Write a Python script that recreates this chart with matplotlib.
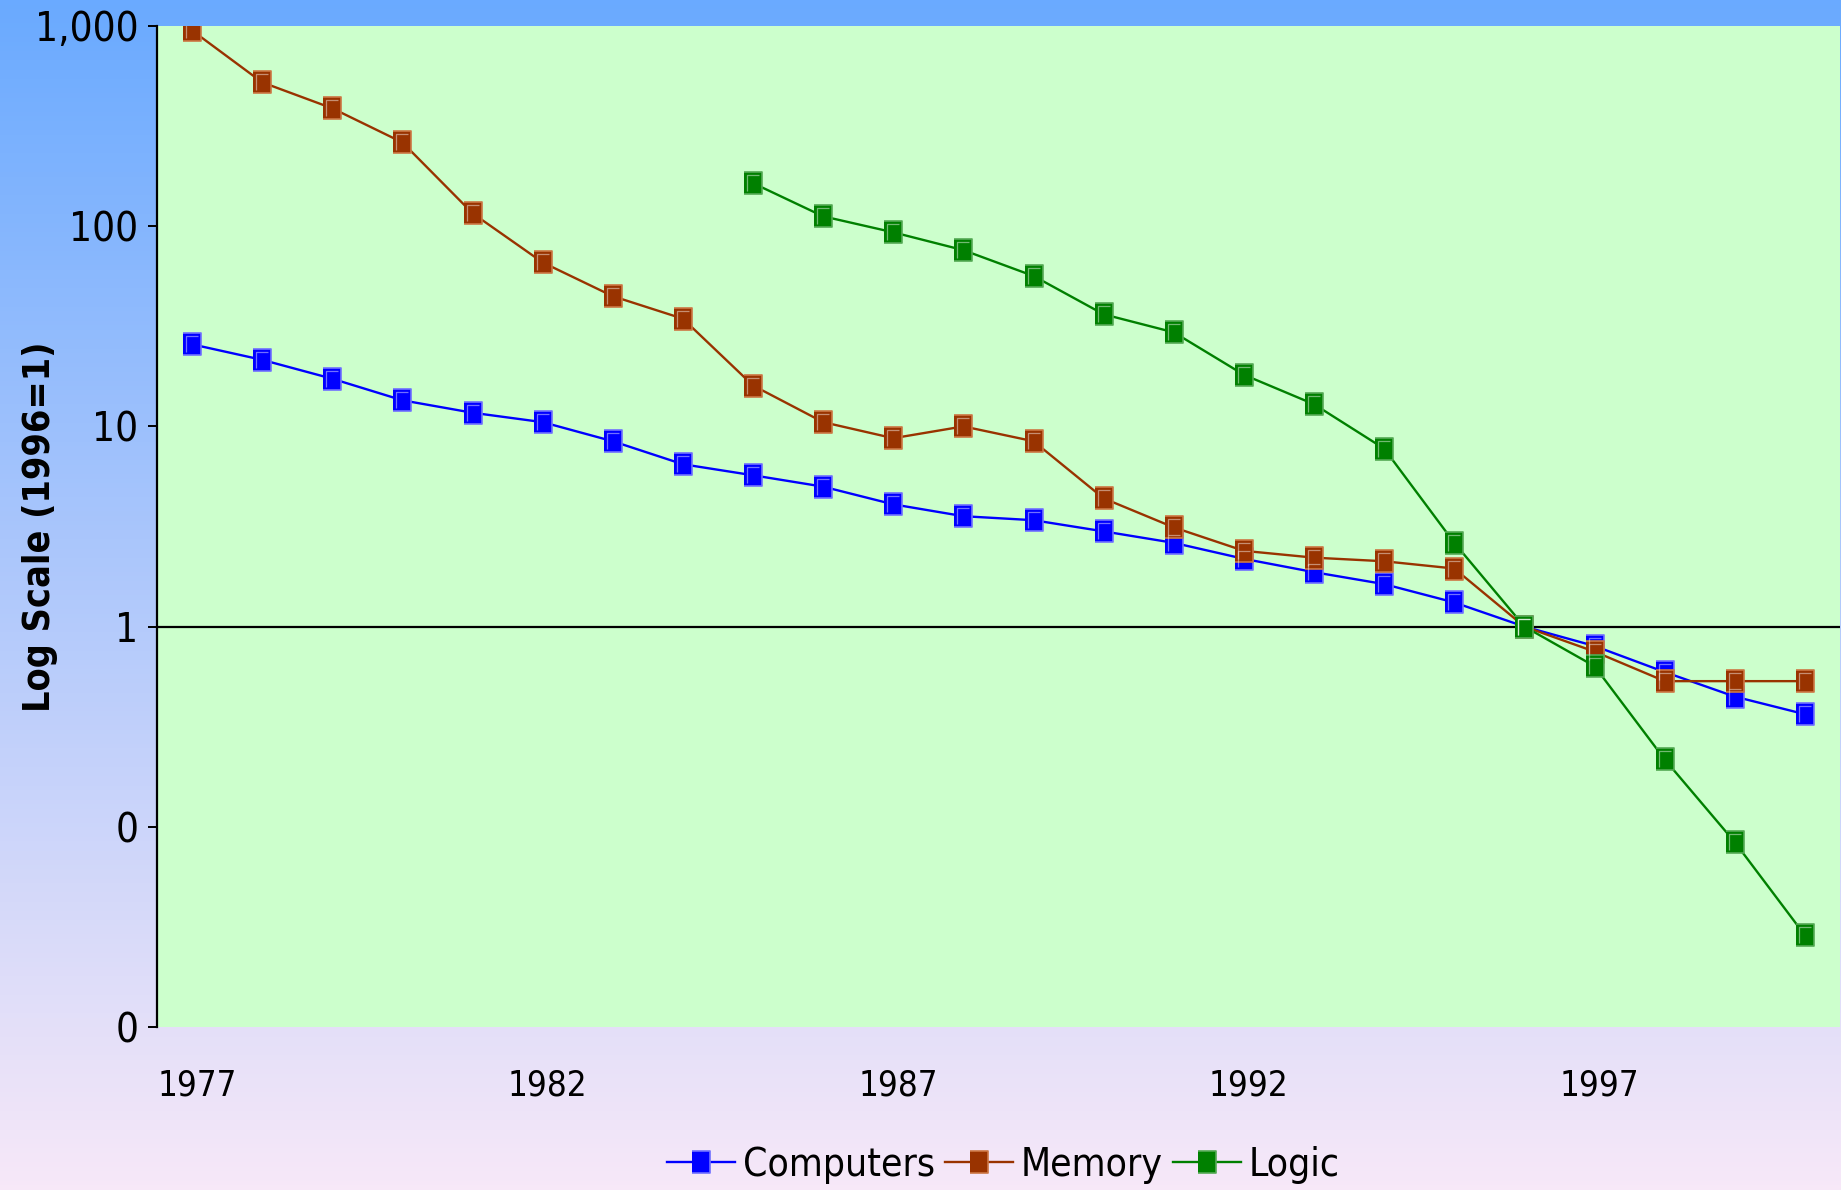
import numpy as np
import matplotlib
matplotlib.use('Agg')
import matplotlib.pyplot as plt
from matplotlib import font_manager
from matplotlib.path import Path
from matplotlib.ticker import FuncFormatter, NullLocator, FixedLocator
from matplotlib.lines import Line2D
from matplotlib.transforms import ScaledTranslation

# Relative price index, log scale, 1996 = 1
years = list(range(1977, 2001))
computers = [25.7, 21.5, 17.3, 13.5, 11.7, 10.5, 8.43, 6.47, 5.70, 5.00, 4.08, 3.56,
             3.40, 2.99, 2.62, 2.18, 1.87, 1.63, 1.32, 1.0, 0.80, 0.593, 0.447, 0.365]
memory = [950, 523, 388, 262, 116, 65.9, 44.7, 34.5, 16.0, 10.5, 8.73, 10.0,
          8.43, 4.37, 3.13, 2.39, 2.21, 2.12, 1.95, 1.0, 0.75, 0.534, 0.534, 0.534]
logic = [None] * 8 + [164, 112, 93.2, 75.9, 56.4, 36.3, 29.5, 18.1, 12.9, 7.74,
                      2.62, 1.0, 0.634, 0.217, 0.0838, 0.0287]

series_names = ['Computers', 'Memory', 'Logic']
series_colors = ['#0000FF', '#993300', '#008000']
edge_colors = ['#7070FF', '#CC7744', '#55AA55']
year_labels = ['1977', '1982', '1987', '1992', '1997']
y_ticks = [0.01, 0.1, 1, 10, 100, 1000]

# look for a narrow sans face; fall back to Liberation Sans at smaller sizes
narrow = None
for f in font_manager.fontManager.ttflist:
    nm = f.name.lower()
    if ('narrow' in nm or 'condensed' in nm or f.stretch in ('condensed', 'semi-condensed')) \
            and 'mono' not in nm and 'serif' not in nm.replace('sans serif', ''):
        narrow = (f.name, f.stretch)
        break

if narrow:
    plt.rcParams['font.family'] = [narrow[0], 'Liberation Sans', 'DejaVu Sans']
    plt.rcParams['font.stretch'] = narrow[1]
    sz_tick, sz_year, sz_legend, sz_ylab = 29, 25, 28, 27
else:
    plt.rcParams['font.family'] = ['Liberation Sans', 'DejaVu Sans']
    sz_tick, sz_year, sz_legend, sz_ylab = 26, 24, 26, 27

W, H = 1841, 1190
fig = plt.figure(figsize=(W / 100, H / 100), dpi=100)

# vertical gradient behind everything
top = np.array([106, 170, 255]) / 255
bottom = np.array([247, 232, 248]) / 255
t = np.linspace(0, 1, 256)[:, None]
grad = (top * (1 - t) + bottom * t)[:, None, :]
bg = fig.add_axes([0, 0, 1, 1], zorder=-10)
bg.imshow(grad, aspect='auto', extent=[0, 1, 0, 1])
bg.axis('off')

ax = fig.add_axes([157 / W, 163 / H, 1683 / W, 1001 / H])
ax.set_facecolor('#CCFFCC')

# tall rectangular marker plus an inner highlight stroke
box = [(-0.4, -0.5), (0.4, -0.5), (0.4, 0.5), (-0.4, 0.5)]
shine = Path([(0.5, 0.5), (-0.25, -0.38), (-0.25, 0.38), (0.28, 0.38)],
             [Path.MOVETO, Path.MOVETO, Path.LINETO, Path.LINETO])
msize = 16

x = np.arange(len(years))
data = [computers, memory, logic]
for vals, name, col, ec in zip(data, series_names, series_colors, edge_colors):
    y = np.array([np.nan if v is None else v for v in vals], dtype=float)
    ax.plot(x, y, color=col, lw=1.7, marker=box, markersize=msize,
            markerfacecolor=col, markeredgecolor=ec, markeredgewidth=1.2,
            zorder=3, label=name)
    ax.plot(x, y, linestyle='none', marker=shine, markersize=msize,
            markerfacecolor='none', markeredgecolor='white', alpha=0.45,
            markeredgewidth=0.9, zorder=4)

ax.axhline(1, color='black', lw=1.6, zorder=2)

ax.set_yscale('log')
ax.set_ylim(0.01, 1000)
ax.set_xlim(-0.5, len(years) - 0.5)
ax.yaxis.set_major_locator(FixedLocator(y_ticks))
ax.yaxis.set_minor_locator(NullLocator())
ax.yaxis.set_major_formatter(FuncFormatter(lambda v, p: f'{v:,.0f}'))
ax.set_xticks([years.index(int(s)) for s in year_labels])
ax.set_xticklabels(year_labels)

for s in ['top', 'right', 'bottom']:
    ax.spines[s].set_visible(False)
ax.spines['left'].set_linewidth(1.6)
ax.tick_params(axis='y', direction='out', length=6.5, width=1.4, pad=7, labelsize=sz_tick)
ax.tick_params(axis='x', length=0, pad=30, labelsize=sz_year)
shift = ScaledTranslation(5 / 100, 0, fig.dpi_scale_trans)
for lbl in ax.get_xticklabels():
    lbl.set_transform(lbl.get_transform() + shift)

ax.set_ylabel('Log Scale (1996=1)', fontsize=sz_ylab, fontweight='bold')
ax.yaxis.set_label_coords(-(157 - 58) / 1683, 0.5)

handles = [Line2D([0], [0], color=c, lw=1.7, marker=box, markersize=msize,
                  markerfacecolor=c, markeredgecolor=e, markeredgewidth=1.2)
           for c, e in zip(series_colors, edge_colors)]
fig.legend(handles, series_names, loc='center', bbox_to_anchor=(0.545, 0.021),
           ncol=3, frameon=False, fontsize=sz_legend, handlelength=1.75,
           handletextpad=0.2, columnspacing=0.25, borderpad=0)

fig.savefig('out.png', dpi=100)
